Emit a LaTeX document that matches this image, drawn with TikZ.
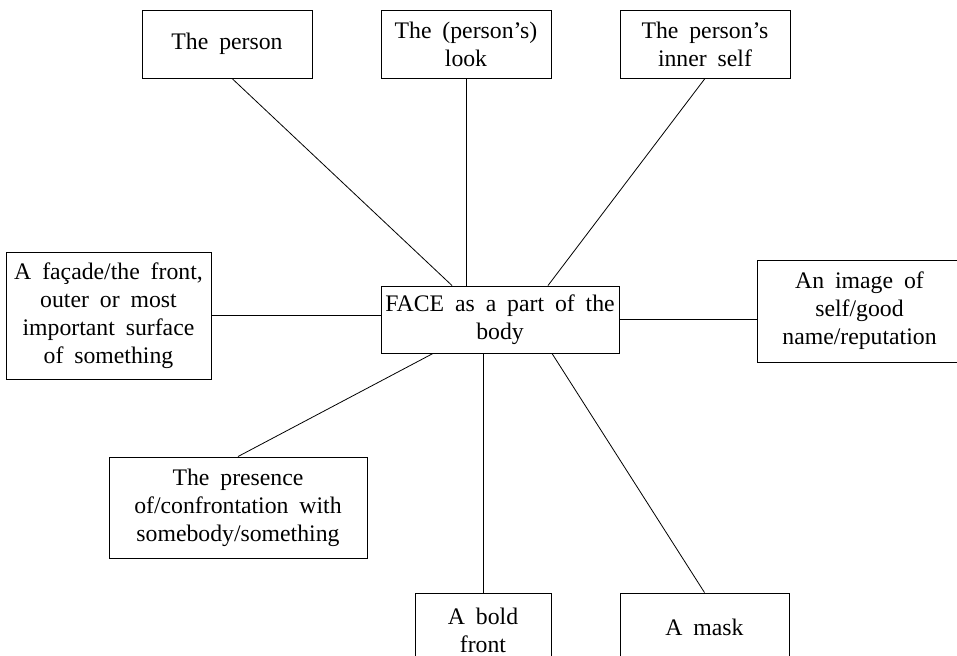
\documentclass[tikz,border=0pt]{standalone}
\usepackage{fontspec}
\setmainfont{Liberation Serif}
\usetikzlibrary{calc}

\newcommand{\sensefont}{\fontsize{17.8}{21}\selectfont\spaceskip=0.46em plus 0.1em minus 0.05em\relax}

\tikzset{
  sense/.style={draw, align=center, inner sep=0pt, line width=0.7pt, font=\sensefont},
  link/.style={line width=0.6pt},
}

\begin{document}
\begin{tikzpicture}[x=0.75pt, y=-0.75pt]
	%\draw[help lines] (0,0) grid (957,656);
	\useasboundingbox (0,0) rectangle (957,656);
	\clip (0,0) rectangle (957,656);

	\node[sense, minimum width=178.5pt, minimum height=50.25pt] (face) at (500,319.5) {FACE as a part of the\\body};

	\node[sense, minimum width=127.5pt, minimum height=51pt] (person) at (227,44) {The person};
	\node[sense, minimum width=127.5pt, minimum height=51pt] (look) at (466,44) {The (person's)\\look};
	\node[sense, minimum width=127.5pt, minimum height=51pt] (inner) at (705,44) {The person's\\inner self};

	\node[sense, minimum width=153.75pt, minimum height=95.25pt] (facade) at (108.5,315.5) {A façade/the front,\\outer or most\\important surface\\of something};
	\node[sense, minimum width=153.75pt, minimum height=76.5pt] (image) at (859.5,311) {An image of\\self/good\\name/reputation};

	\node[sense, minimum width=193.5pt, minimum height=75.75pt] (presence) at (238,507.5) {The presence\\of/confrontation with\\somebody/something};
	\node[sense, minimum width=102pt, minimum height=55.5pt] (bold) at (483,630) {A bold\\front};
	\node[sense, minimum width=126.75pt, minimum height=51pt] (mask) at (704.5,627) {A mask};

	\draw[link] ($(person.south)+(5,0)$) -- ($(face.north)+(-48,0)$);
	\draw[link] (look.south) -- (look.south |- face.north);
	\draw[link] (inner.south) -- ($(face.north)+(48,0)$);
	\draw[link] (facade.east) -- (facade.east -| face.west);
	\draw[link] (face.east) -- (face.east -| image.west);
	\draw[link] ($(face.south)+(-67,0)$) -- (presence.north);
	\draw[link] (bold.north |- face.south) -- (bold.north);
	\draw[link] ($(face.south)+(52,0)$) -- (mask.north);
\end{tikzpicture}
\end{document}
